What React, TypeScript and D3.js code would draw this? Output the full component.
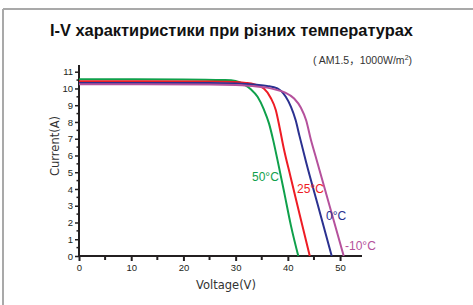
import React, { useRef, useEffect } from "react";
import * as d3 from "d3";

// I-V curves, [voltage, current]
const curve50 = [[0, 10.55], [20, 10.54], [28, 10.5], [30, 10.45], [31.6, 10.25], [32.9, 9.95], [34.2, 9.5], [35.4, 8.75], [36.4, 7.9], [37.2, 6.9], [38, 5.75], [39.3, 3.8], [40.6, 1.8], [42, 0]];
const curve25 = [[0, 10.43], [25, 10.42], [30, 10.38], [32, 10.33], [33.5, 10.25], [35.4, 10.0], [36.7, 9.45], [37.7, 8.7], [38.4, 7.7], [39.2, 6.45], [40.5, 4.75], [42.2, 2.55], [44.2, 0]];
const curve0 = [[0, 10.33], [25, 10.32], [30, 10.3], [34, 10.22], [36, 10.15], [38, 10.0], [39.6, 9.5], [40.6, 8.9], [41.5, 8.1], [42.2, 7.2], [43.5, 5.6], [46, 2.75], [48.4, 0]];
const curveM10 = [[0, 10.25], [25, 10.24], [30, 10.2], [34, 10.12], [36, 10.05], [38, 9.9], [39.5, 9.75], [41.2, 9.4], [42.5, 8.85], [43.5, 8.1], [44.4, 6.95], [45.5, 5.75], [48, 2.98], [50.7, 0]];

const seriesNames = ["50°C", "25°C", "0°C", "-10°C"];
const seriesColors = ["#0fa04b", "#ee1c25", "#2b3190", "#b5519c"];
const xTicks = [0, 10, 20, 30, 40, 50];
const yTicks = [0, 1, 2, 3, 4, 5, 6, 7, 8, 9, 10, 11];

const IVChart = () => {
  const svgRef = useRef(null);

  useEffect(() => {
    const svg = d3.select(svgRef.current);
    svg.selectAll("*").remove();

    const x = d3.scaleLinear().domain([0, 54.2]).range([79, 362]);
    const y = d3.scaleLinear().domain([0, 11.4]).range([256, 65]);

    // frame
    svg.append("line").attr("x1", 3).attr("x2", 3).attr("y1", 9).attr("y2", 305)
      .attr("stroke", "#a9a9a9").attr("stroke-width", 2);
    svg.append("line").attr("x1", 3).attr("x2", 473).attr("y1", 9).attr("y2", 9)
      .attr("stroke", "#a9a9a9").attr("stroke-width", 2);

    // title
    svg.append("text").attr("x", 50).attr("y", 36)
      .attr("font-family", "Liberation Sans, Arial, sans-serif")
      .attr("font-weight", "bold").attr("font-size", 16.4).attr("fill", "#111")
      .text("I-V характиристики при різних температурах");

    const sub = svg.append("text").attr("x", 313).attr("y", 64)
      .attr("font-family", "Liberation Sans, Arial, 'Noto Sans CJK SC', sans-serif")
      .attr("font-size", 10.5).attr("fill", "#333");
    sub.append("tspan").text("( AM1.5，1000W/m");
    sub.append("tspan").attr("dy", -4).attr("font-size", 7).text("2");
    sub.append("tspan").attr("dy", 4).text(")");

    // x axis
    const xAxis = d3.axisBottom(x).tickValues(xTicks).tickSize(5).tickPadding(3).tickFormat(d3.format("d"));
    const gx = svg.append("g").attr("transform", "translate(0,256)").call(xAxis);
    gx.select(".domain").attr("d", `M79,0H362`).attr("stroke", "#231f20").attr("stroke-width", 2);
    gx.selectAll(".tick line").attr("stroke", "#231f20").attr("stroke-width", 2);
    gx.selectAll(".tick text").attr("font-family", "Liberation Sans, Arial, sans-serif")
      .attr("font-size", 9.5).attr("fill", "#231f20");
    gx.selectAll(".minor").data([5, 15, 25, 35, 45]).join("line")
      .attr("x1", d => x(d)).attr("x2", d => x(d)).attr("y1", 0).attr("y2", 4)
      .attr("stroke", "#231f20").attr("stroke-width", 2);

    // y axis
    const yAxis = d3.axisLeft(y).tickValues(yTicks).tickSize(4).tickPadding(2).tickFormat(d3.format("d"));
    const gy = svg.append("g").attr("transform", "translate(79,0)").call(yAxis);
    gy.select(".domain").attr("d", `M0,256V65`).attr("stroke", "#231f20").attr("stroke-width", 2);
    gy.selectAll(".tick line").attr("stroke", "#231f20").attr("stroke-width", 1.5);
    gy.selectAll(".tick text").attr("font-family", "Liberation Sans, Arial, sans-serif")
      .attr("font-size", 9.5).attr("fill", "#231f20");
    gy.selectAll(".minor").data(d3.range(0.5, 11, 1)).join("line")
      .attr("x1", -2.5).attr("x2", 0).attr("y1", d => y(d)).attr("y2", d => y(d))
      .attr("stroke", "#231f20").attr("stroke-width", 1.5);

    // axis titles
    svg.append("text").attr("x", 226).attr("y", 289).attr("text-anchor", "middle")
      .attr("font-family", "DejaVu Sans, sans-serif").attr("font-size", 11.5).attr("fill", "#333")
      .text("Voltage(V)");
    svg.append("text").attr("transform", "translate(59,146) rotate(-90)").attr("text-anchor", "middle")
      .attr("font-family", "DejaVu Sans, sans-serif").attr("font-size", 11.5).attr("fill", "#333")
      .text("Current(A)");

    // curves
    const line = d3.line().x(d => x(d[0])).y(d => y(d[1])).curve(d3.curveMonotoneX);
    const curves = [curve50, curve25, curve0, curveM10];
    svg.append("g").selectAll("path").data(curves).join("path")
      .attr("d", d => line(d)).attr("fill", "none")
      .attr("stroke", (d, i) => seriesColors[i]).attr("stroke-width", 2);

    // series labels
    const labelPos = [[252, 181], [297, 193], [326, 220], [345, 250]];
    svg.append("g").selectAll("text").data(seriesNames).join("text")
      .attr("x", (d, i) => labelPos[i][0]).attr("y", (d, i) => labelPos[i][1])
      .attr("font-family", "Liberation Sans, Arial, sans-serif").attr("font-size", 12)
      .attr("fill", (d, i) => seriesColors[i]).text(d => d);
  });

  return (
    <svg ref={svgRef} width={473} height={305}
      style={{ position: "absolute", left: 0, top: 0, background: "#fff" }}>
    </svg>
  );
};

export default function App() {
  return <IVChart />;
}
